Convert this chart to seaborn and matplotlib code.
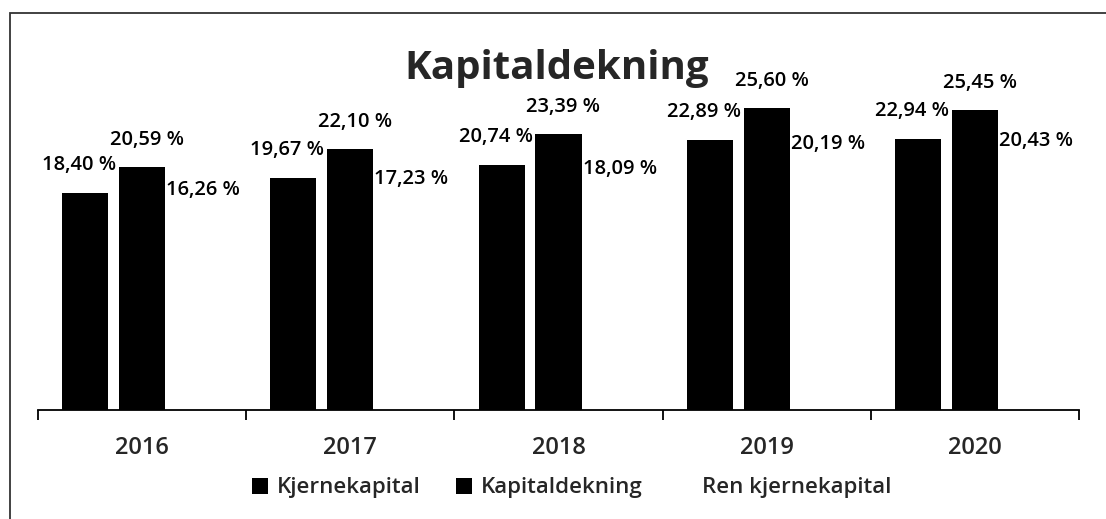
import matplotlib
matplotlib.use("Agg")
import matplotlib.pyplot as plt
import seaborn as sns
import pandas as pd
from matplotlib.patches import Rectangle

# Data
years = ["2016", "2017", "2018", "2019", "2020"]
kjernekapital = [18.40, 19.67, 20.74, 22.89, 22.94]
kapitaldekning = [20.59, 22.10, 23.39, 25.60, 25.45]
ren_kjernekapital = [16.26, 17.23, 18.09, 20.19, 20.43]
series_names = ["Kjernekapital", "Kapitaldekning", "Ren kjernekapital"]
series_colors = ["black", "black", "white"]

df = pd.DataFrame({
    "År": years * 3,
    "Verdi": kjernekapital + kapitaldekning + ren_kjernekapital,
    "Serie": [s for s in series_names for _ in years],
})

sns.set_style("white")
plt.rcParams["font.family"] = ["Open Sans", "DejaVu Sans"]

W, H = 1106, 519
fig = plt.figure(figsize=(W / 100, H / 100), dpi=100)
# baseline at y=410 px, 11.8 px per percent point
ax = fig.add_axes([38 / W, 1 - 410 / H, (1079 - 38) / W, 30 * 11.8 / H])

sns.barplot(data=df, x="År", y="Verdi", hue="Serie", hue_order=series_names,
            palette=series_colors, width=0.82, gap=0.19, saturation=1,
            linewidth=0, ax=ax, legend=True)

ax.set_ylim(0, 30)
ax.set_xlim(-0.5, 4.5)
ax.set_xlabel("")
ax.set_ylabel("")
ax.set_yticks([])
for side in ["left", "right", "top"]:
    ax.spines[side].set_visible(False)
ax.spines["bottom"].set_color("black")
ax.spines["bottom"].set_linewidth(1.3)

# ticks at the category boundaries, labels in the middle
ax.set_xticks([i - 0.5 for i in range(len(years) + 1)], minor=True)
ax.tick_params(axis="x", which="minor", direction="out", length=7, width=1.3,
               color="black", bottom=True)
ax.tick_params(axis="x", which="major", length=0, pad=19, labelsize=17)
for lbl in ax.get_xticklabels():
    lbl.set_fontweight("semibold")

def fmt(v):
    return f"{v:.2f}".replace(".", ",") + " %"

lab_kw = dict(textcoords="offset pixels", fontsize=14.5, fontweight="semibold",
              va="center", color="black")
k_bars, kd_bars, r_bars = ax.containers
for kb, db, rb in zip(k_bars, kd_bars, r_bars):
    ax.annotate(fmt(kb.get_height()), (kb.get_x() + kb.get_width(), kb.get_height()),
                xytext=(8, 28), ha="right", zorder=0.5, **lab_kw)
    ax.annotate(fmt(db.get_height()), (db.get_x() + db.get_width() / 2, db.get_height()),
                xytext=(5, 27), ha="center", **lab_kw)
    ax.annotate(fmt(rb.get_height()), (db.get_x() + db.get_width(), rb.get_height()),
                xytext=(1, 28), ha="left", zorder=0.5, **lab_kw)

handles, labels = ax.get_legend_handles_labels()
ax.legend_.remove()
fig.legend(handles, labels, ncol=3, frameon=False, loc="center",
           bbox_to_anchor=(572 / W, 1 - 488 / H),
           prop={"size": 16, "weight": "semibold"},
           handlelength=0.7, handleheight=0.7, handletextpad=0.4,
           columnspacing=1.6)

fig.text(557 / W, 1 - 79 / H, "Kapitaldekning", ha="center", va="baseline",
         fontsize=29, fontweight="bold")

# outer frame (only top and left edges fall inside the picture)
fig.patches.append(Rectangle((10 / W, -0.1), 1.2, 1 - 13 / H + 0.1,
                             transform=fig.transFigure, fill=False,
                             edgecolor="#333333", linewidth=1.3))

fig.savefig("out.png", dpi=100)
